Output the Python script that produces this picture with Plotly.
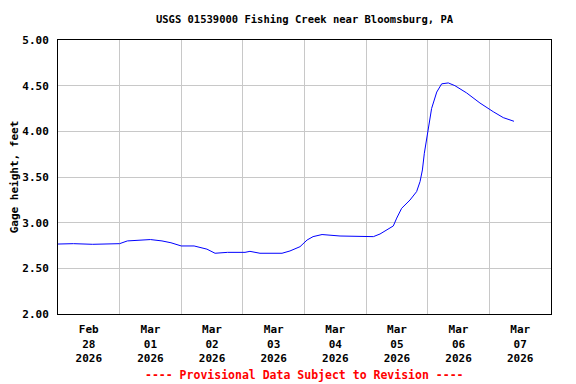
import plotly.graph_objects as go

times = [
    "2026-02-28 00:00", "2026-02-28 06:00", "2026-02-28 13:30", "2026-02-28 20:00",
    "2026-03-01 00:00", "2026-03-01 03:00", "2026-03-01 12:00", "2026-03-01 16:30",
    "2026-03-01 20:00", "2026-03-02 00:00", "2026-03-02 05:00", "2026-03-02 10:00",
    "2026-03-02 13:10", "2026-03-02 18:00", "2026-03-03 00:50", "2026-03-03 02:45",
    "2026-03-03 06:40", "2026-03-03 15:15", "2026-03-03 18:20", "2026-03-03 22:15",
    "2026-03-04 01:00", "2026-03-04 03:20", "2026-03-04 06:50", "2026-03-04 13:50",
    "2026-03-04 21:40", "2026-03-05 02:50", "2026-03-05 05:25", "2026-03-05 08:00",
    "2026-03-05 10:35", "2026-03-05 11:55", "2026-03-05 13:50", "2026-03-05 17:05",
    "2026-03-05 19:40", "2026-03-05 21:00", "2026-03-05 21:55", "2026-03-05 22:40",
    "2026-03-05 23:35", "2026-03-06 00:15", "2026-03-06 00:55", "2026-03-06 01:30",
    "2026-03-06 03:30", "2026-03-06 05:25", "2026-03-06 08:00", "2026-03-06 10:35",
    "2026-03-06 15:10", "2026-03-06 20:20", "2026-03-07 01:30", "2026-03-07 05:25",
    "2026-03-07 09:35",
]
gage_height = [
    2.766, 2.77, 2.763, 2.765,
    2.77, 2.80, 2.815, 2.80,
    2.78, 2.745, 2.745, 2.71,
    2.665, 2.675, 2.675, 2.686,
    2.665, 2.665, 2.69, 2.737,
    2.81, 2.847, 2.87, 2.854,
    2.847, 2.847, 2.876, 2.92,
    2.964, 3.05, 3.157, 3.248,
    3.34, 3.45, 3.577, 3.76,
    3.905, 4.01, 4.12, 4.25,
    4.43, 4.52, 4.53, 4.50,
    4.42, 4.31, 4.215, 4.15,
    4.11,
]

title_text = "USGS 01539000 Fishing Creek near Bloomsburg, PA"
y_title = "Gage height, feet"
footer = "---- Provisional Data Subject to Revision ----"
y_ticks = [2.0, 2.5, 3.0, 3.5, 4.0, 4.5, 5.0]

mono = "DejaVu Sans Mono"

# page body has an 8px default margin; figure is sized to fill the rest
W, H = 568, 376
T, B = 32, 70

fig = go.Figure()
fig.add_trace(go.Scatter(x=times, y=gage_height, mode="lines",
                         line=dict(color="#0000ff", width=1), showlegend=False))

fig.update_layout(
    width=W, height=H,
    margin=dict(l=50, r=25, t=T, b=B, autoexpand=False),
    paper_bgcolor="white", plot_bgcolor="white",
    font=dict(family=mono, color="black"),
    title=dict(text="<b>" + title_text + "</b>", x=0.5, xref="paper",
               y=1 - 11 / H, yanchor="middle", automargin=False,
               font=dict(family=mono, size=10.5, color="black")),
    xaxis=dict(
        range=["2026-02-28 00:00", "2026-03-08 00:00"],
        type="date", dtick=86400000, tick0="2026-02-28",
        ticklabelmode="period", tickformat="<b>%b</b><br><b>%d</b><br><b>%Y</b>",
        showgrid=True, gridcolor="#c8c8c8", gridwidth=1,
        showline=True, linecolor="black", linewidth=1, mirror=True,
        ticks="", ticklabelstandoff=5,
        tickfont=dict(family=mono, size=11, color="black"),
        zeroline=False, fixedrange=True, automargin=False,
    ),
    yaxis=dict(
        range=[2.0, 5.0], tickvals=y_ticks,
        ticktext=["<b>%.2f</b>" % v for v in y_ticks],
        showgrid=True, gridcolor="#c8c8c8", gridwidth=1,
        showline=True, linecolor="black", linewidth=1, mirror=True,
        ticks="", ticklabelstandoff=6,
        tickfont=dict(family=mono, size=11, color="black"),
        title=dict(text="<b>" + y_title + "</b>", standoff=8,
                   font=dict(family=mono, size=11, color="black")),
        zeroline=False, fixedrange=True, automargin=False,
    ),
)

fig.add_annotation(text="<b>" + footer + "</b>", xref="paper", yref="paper",
                   x=0.5, y=-(367 - (H - B)) / (H - T - B), yanchor="middle",
                   showarrow=False,
                   font=dict(family=mono, size=11.5, color="red"))

fig.write_html("out.html")
